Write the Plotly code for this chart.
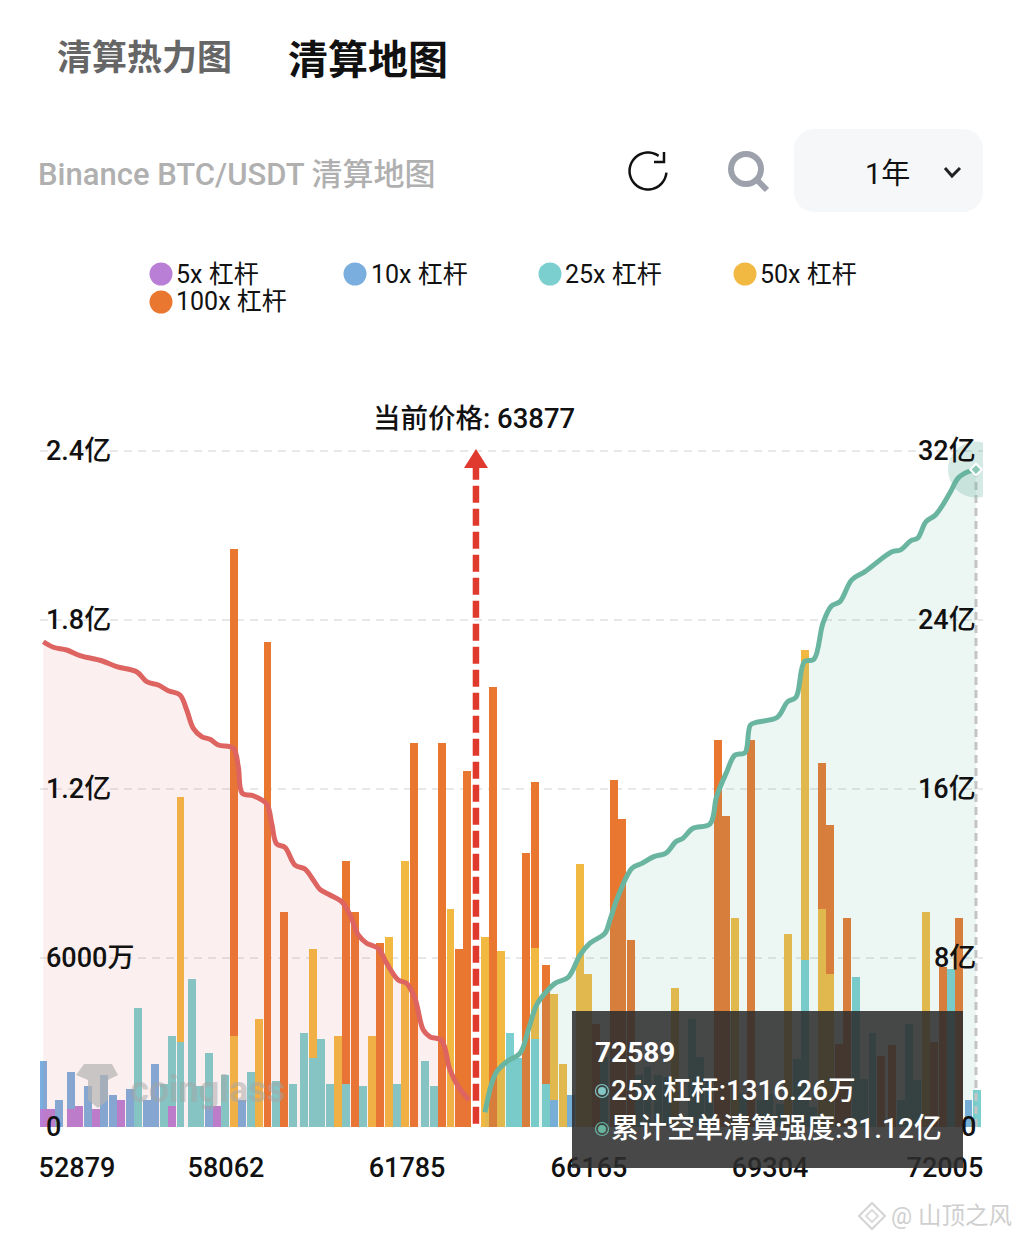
import math
import plotly.graph_objects as go

W, H = 1020, 1242

# bin number along the price axis, bar heights in 万
bins_100x = [22.82, 26.82, 28.83, 36.24, 37.28, 40.26, 44.32, 47.67, 49.70, 50.69, 53.74, 57.74, 58.75, 60.10,
             66.07, 68.22, 69.18, 70.21, 80.65, 81.60, 84.59, 93.07, 94.03, 95.10, 96.06, 100.12, 101.43,
             106.45, 107.49, 109.44]
vals_100x = [20519, 17218, 7633, 9443, 7633, 6532, 13632, 13632, 6331, 12638, 15620, 9737, 12248, 5739,
             3645, 12319, 10934, 6627, 13738, 11040, 13738, 12922, 10721, 2958, 7430, 2521, 2923,
             3017, 5680, 7430]

bins_50x = [16.43, 22.82, 25.81, 32.22, 35.25, 39.31, 41.30, 43.29, 48.69, 52.77, 54.76, 58.75, 61.09, 62.13,
            64.16, 65.11, 75.51, 82.64, 89.01, 91.04, 93.07, 94.03, 105.50]
vals_50x = [11715, 3243, 3834, 6331, 3243, 3243, 6734, 9443, 7728, 6734, 6237, 6343, 4734, 2249,
            9337, 5420, 4934, 7430, 6841, 16933, 7750, 5443, 7633]

bins_25x = [11.35, 14.42, 15.41, 16.43, 17.77, 18.76, 19.80, 21.78, 24.82, 27.84, 29.87, 31.22, 32.22, 33.25,
            34.25, 36.24, 38.27, 42.29, 45.67, 46.68, 55.79, 56.75, 58.75, 60.10, 67.03, 71.21, 72.22, 73.48,
            74.55, 77.54, 78.49, 79.57, 83.63, 85.78, 86.74, 88.05, 90.08, 91.04, 92.00, 97.10, 98.09, 99.10,
            102.51, 103.46, 104.42, 108.48, 111.59]
vals_25x = [4236, 1538, 3243, 3030, 5242, 1444, 2639, 1834, 1941, 1645, 1538, 3337, 2450, 3136,
            1538, 1538, 1444, 1538, 2332, 1444, 3337, 2450, 3136, 1538, 2485, 1834, 2130, 1834,
            1775, 3834, 2485, 1656, 1200, 947, 1183, 828, 2427, 5940, 710, 5336, 1716, 3337,
            947, 3645, 1657, 5621, 1316]

bins_10x = [0, 1.96, 3.31, 5.34, 7.29, 8.36, 10.39, 12.39, 13.38, 19.80, 23.81, 61.09, 63.08, 110.57]
vals_10x = [2343, 947, 1941, 1444, 1834, 1148, 1337, 947, 2249, 746, 947, 947, 1124, 947]

bins_5x = [0, 0.96, 3.31, 4.30, 6.33, 9.32, 15.41, 20.79]
vals_5x = [639, 639, 639, 746, 639, 947, 746, 746]

# cumulative long / short liquidation strength, 亿
long_bins = [0.04, 1.23, 2.83, 4.42, 7.01, 8.81, 11.19, 12.39, 13.78, 14.97, 16.37, 17.17, 17.96, 18.96, 19.95,
             20.94, 22.74, 23.33, 23.81, 25.13, 26.73, 27.32, 27.92, 28.91, 30.11, 31.30, 32.29, 33.09, 34.29,
             35.69, 36.68, 37.67, 38.67, 40.06, 41.06, 42.45, 43.45, 44.44, 45.44, 46.24, 47.63, 48.63, 49.62, 50.90]
long_vals = [22.97, 22.71, 22.58, 22.31, 22.07, 21.79, 21.55, 21.08, 20.92, 20.65, 20.45, 19.74, 18.87, 18.48, 18.35,
             18.08, 17.93, 17.06, 15.80, 15.68, 15.29, 14.38, 13.40, 13.24, 12.40, 12.21, 11.69, 11.25, 10.98,
             10.67, 10.04, 9.09, 8.70, 8.46, 7.75, 6.96, 6.80, 6.09, 4.59, 4.27, 4.09, 2.70, 1.91, 1.28]

short_bins = [52.81, 53.61, 54.21, 55.40, 56.99, 57.98, 58.98, 59.98, 61.17, 62.76, 64.16, 65.35, 67.14, 67.74, 68.54,
              70.37, 71.56, 72.99, 74.43, 75.63, 76.46, 77.66, 79.69, 80.48, 81.70, 82.68, 83.87, 84.52, 85.30,
              87.74, 88.96, 89.96, 90.98, 92.11, 93.19, 94.20, 95.22, 96.63, 98.21, 101.43, 102.47, 103.70, 104.49,
              105.50, 106.63, 108.33, 109.32, 110.15, 110.87, 111.47]
short_vals = [0.70, 2.07, 2.62, 3.09, 3.49, 4.59, 5.78, 6.33, 6.80, 7.09, 8.14, 8.70, 9.17, 9.80, 10.75,
              12.25, 12.48, 12.80, 12.96, 13.51, 13.67, 14.14, 14.34, 15.64, 16.82, 17.61, 17.72, 19.03, 19.16,
              19.40, 20.13, 20.34, 22.03, 22.14, 23.85, 24.66, 24.87, 25.90, 26.29, 27.23, 27.32, 27.76, 27.87,
              28.66, 28.97, 30.00, 30.71, 30.95, 31.06, 31.12]

x_tick_bins = [4.06, 21.86, 43.5, 65.23, 86.86, 107.76]
x_tick_labels = ["52879", "58062", "61785", "66165", "69304", "72005"]
left_ticks = [0, 6000, 12000, 18000, 24000]
left_labels = ["0", "6000万", "1.2亿", "1.8亿", "2.4亿"]
right_ticks = [0, 8, 16, 24, 32]
right_labels = ["0", "8亿", "16亿", "24亿", "32亿"]

price_bin = 51.73
price_label = "当前价格: 63877"

COL_5X = "#b97fd6"
COL_10X = "#7aaede"
COL_25X = "#7ccfcf"
COL_50X = "#f2b942"
COL_100X = "#e97730"
FONT = "Roboto, Noto Sans CJK SC, sans-serif"


def px(x):
    return x / W


def py(y):
    return 1 - y / H


def text(s, x, y, size, color="#111", anchor="left", weight=400):
    # annotations carry a little padding, pull them back onto the wanted pixel
    if anchor == "left":
        x -= 2.5
    elif anchor == "right":
        x += 2.5
    return dict(text=s, x=px(x), y=py(y), xref="paper", yref="paper", showarrow=False, xanchor=anchor,
                yanchor="middle", font=dict(family=FONT, size=size, color=color, weight=weight))


def circle(cx, cy, r, fill, line=None, width=0):
    return dict(type="circle", xref="paper", yref="paper", x0=px(cx - r), x1=px(cx + r), y0=py(cy + r), y1=py(cy - r),
                fillcolor=fill, line=dict(color=line or fill, width=width), layer="above")


def poly(points, color, width, fill="rgba(0,0,0,0)", close=False):
    path = "M" + " L".join(f"{px(a):.5f},{py(b):.5f}" for a, b in points) + (" Z" if close else "")
    return dict(type="path", xref="paper", yref="paper", path=path, fillcolor=fill,
                line=dict(color=color, width=width), layer="above")


def rounded(x0, y0, x1, y1, r):
    pts = []
    for cx, cy, start in [(x1 - r, y0 + r, -90), (x1 - r, y1 - r, 0), (x0 + r, y1 - r, 90), (x0 + r, y0 + r, 180)]:
        for k in range(9):
            a = math.radians(start + k * 90 / 8)
            pts.append((cx + r * math.cos(a), cy + r * math.sin(a)))
    return pts


fig = go.Figure()

# drawn back to front, so the short leverage bars sit on the tall ones
for bins, vals, col, name in [(bins_100x, vals_100x, COL_100X, "100x 杠杆"), (bins_50x, vals_50x, COL_50X, "50x 杠杆"),
                              (bins_25x, vals_25x, COL_25X, "25x 杠杆"), (bins_10x, vals_10x, COL_10X, "10x 杠杆"),
                              (bins_5x, vals_5x, COL_5X, "5x 杠杆")]:
    fig.add_trace(go.Bar(x=bins, y=vals, name=name, width=0.94, marker=dict(color=col, line=dict(width=0))))

fig.add_trace(go.Scatter(x=long_bins, y=long_vals, yaxis="y2", mode="lines", fill="tozeroy",
                         fillcolor="rgba(222,96,96,0.10)", line=dict(color="#dd6460", width=5, shape="spline")))
fig.add_trace(go.Scatter(x=short_bins, y=short_vals, yaxis="y2", mode="lines", fill="tozeroy",
                         fillcolor="rgba(96,184,156,0.12)", line=dict(color="#69b5a0", width=5, shape="spline")))

# hover point at the right end
fig.add_trace(go.Scatter(x=[short_bins[-1]] * 2, y=[0, short_vals[-1]], yaxis="y2", mode="lines",
                         line=dict(color="#c4c4c4", width=3, dash="8px,5px")))
fig.add_trace(go.Scatter(x=[short_bins[-1]], y=[short_vals[-1]], yaxis="y2", mode="markers",
                         marker=dict(size=56, color="rgba(105,181,160,0.28)", line=dict(width=0))))
fig.add_trace(go.Scatter(x=[short_bins[-1]], y=[short_vals[-1]], yaxis="y2", mode="markers",
                         marker=dict(size=9, symbol="diamond", color="#8cc9b8", line=dict(color="white", width=2))))

# current price arrow
fig.add_trace(go.Scatter(x=[price_bin, price_bin], y=[0.15, 31.2], yaxis="y2", mode="lines",
                         line=dict(color="#e0392d", width=6.5, dash="17px,6px")))

shapes = [
    poly([(476, 449), (488, 468), (464, 468)], "#e0392d", 0, fill="#e0392d", close=True),
    poly(rounded(794, 129, 983, 212, 20), "#f6f7f9", 0, fill="#f6f7f9", close=True),
    poly([(945, 168), (952, 176), (960, 168)], "#222", 3),
    # refresh icon
    poly([(648 + 18.5 * math.cos(math.radians(a)), 171 + 18.5 * math.sin(math.radians(a))) for a in range(5, 311, 10)],
         "#111", 2.5),
    poly([(664, 152), (664, 162), (654, 162)], "#111", 2.5),
    # search icon
    circle(746, 169, 15, "rgba(0,0,0,0)", "#9ca1ac", 6),
    poly([(757, 180), (767, 190)], "#9ca1ac", 6),
]
for cx, cy, col in [(161, 274, COL_5X), (355, 274, COL_10X), (550, 274, COL_25X), (745, 274, COL_50X), (161, 302, COL_100X)]:
    shapes.append(circle(cx, cy, 11.5, col))

# coinglass logo, just a rough outline
shapes.append(poly([(76, 1075), (84, 1064), (112, 1064), (118, 1075), (108, 1080), (108, 1100), (98, 1108), (88, 1100),
                    (88, 1080)], "rgba(0,0,0,0)", 0, fill="rgba(180,180,180,0.7)", close=True))

# tooltip box
shapes.append(dict(type="rect", xref="paper", yref="paper", x0=px(572), x1=px(963), y0=py(1168), y1=py(1011),
                   fillcolor="rgba(45,45,45,0.87)", line=dict(width=0), layer="above"))
shapes.append(circle(602, 1091, 6.5, "rgba(0,0,0,0)", "#85c6c6", 1.2))
shapes.append(circle(602, 1091, 4, "#85c6c6"))
shapes.append(circle(602, 1129, 6.5, "rgba(0,0,0,0)", "#69b5a0", 1.2))
shapes.append(circle(602, 1129, 4, "#69b5a0"))

# binance style mark next to the credit
shapes.append(poly([(872, 1203), (885, 1216), (872, 1229), (859, 1216)], "#d4d4d4", 2, close=True))
shapes.append(poly([(872, 1210), (878, 1216), (872, 1222), (866, 1216)], "#dcdcdc", 2, close=True))

annotations = [
    text("清算热力图", 57, 59, 35, "#666", weight=700),
    text("清算地图", 288, 61, 40, "#111", weight=700),
    text("Binance BTC/USDT 清算地图", 38, 175, 31, "#b0b0b0", weight=500),
    text("1年", 865, 174, 29),
    text("5x 杠杆", 176, 274, 25),
    text("10x 杠杆", 371, 274, 25),
    text("25x 杠杆", 565, 274, 25),
    text("50x 杠杆", 760, 274, 25),
    text("100x 杠杆", 176, 302, 25),
    text(price_label, 473.5, 419, 27.5, anchor="center", weight=500),
    text("coinglass", 130, 1090, 36, "rgba(165,165,165,0.5)", weight=700),
    text("72589", 595, 1052, 28, "white", weight=700),
    text("25x 杠杆:1316.26万", 611, 1090, 27.7, "white", weight=500),
    text("累计空单清算强度:31.12亿", 611, 1128, 28, "white", weight=500),
    text("@ 山顶之风", 891, 1216, 23.5, "#cfcfcf"),
]

# y labels as annotations: plotly drops inside tick labels at the axis ends
for val, lab in zip(left_ticks, left_labels):
    a = text(lab, 46, 0, 27, weight=500)
    a.update(y=val, yref="y")
    annotations.append(a)
for val, lab in zip(right_ticks, right_labels):
    a = text(lab, 975, 0, 27, anchor="right", weight=500)
    a.update(y=val, yref="y2")
    annotations.append(a)

fig.update_layout(
    width=W, height=H, autosize=False,
    margin=dict(l=0, r=0, t=0, b=0),
    paper_bgcolor="white", plot_bgcolor="white",
    font=dict(family=FONT, color="#111"),
    showlegend=False, barmode="overlay", bargap=0,
    shapes=shapes, annotations=annotations,
    xaxis=dict(domain=[px(40), px(983)], range=[-0.358, 112.31], tickmode="array", tickvals=x_tick_bins,
               ticktext=x_tick_labels, tickfont=dict(size=27, color="#111", weight=500), ticks="outside", ticklen=17,
               tickcolor="rgba(0,0,0,0)", showgrid=False, zeroline=False, showline=False),
    yaxis=dict(domain=[py(1127), py(440)], range=[0, 24391], tickmode="array", tickvals=left_ticks,
               showticklabels=False, showgrid=True, gridcolor="#e8e8e8", griddash="8px,6px", gridwidth=1.5,
               zeroline=False, showline=False),
    yaxis2=dict(domain=[py(1127), py(440)], range=[0, 32.52], overlaying="y", side="right", tickmode="array",
                tickvals=right_ticks, showticklabels=False, showgrid=False, zeroline=False, showline=False),
)

fig.write_html("out.html", config=dict(displayModeBar=False), post_script="document.body.style.margin='0';")
